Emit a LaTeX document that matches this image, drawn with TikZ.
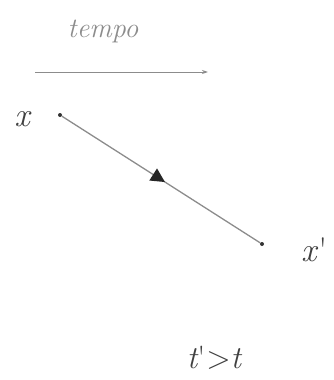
\documentclass[tikz,border=0pt]{standalone}
\usetikzlibrary{arrows.meta,decorations.markings}
\begin{document}
\begin{tikzpicture}[x=1pt,y=-1pt,
  hand/.style={font=\fontsize{34}{36}\selectfont\itshape, text=black!75, inner sep=0pt},
  pt/.style={circle, fill=black!80, inner sep=0pt, minimum size=4pt},
  wline/.style={draw=black!45, line width=1.3pt},
  midarrow/.style={postaction={decorate}, decoration={markings,
     mark=at position 0.52 with {\arrow[black!85]{Triangle[length=14pt,width=14pt]}}}}]
\useasboundingbox (0,0) rectangle (333,380);
\node[hand, text=black!45, font=\fontsize{28}{30}\selectfont\itshape] (tempo) at (103,31) {tempo};
\coordinate (ta) at (35,72);
\coordinate (tb) at (208,72);
\draw[wline, line width=1pt, -{Stealth[length=6pt,width=4pt]}] (ta) -- (tb);
\node[pt] (p1) at (60,115) {};
\node[pt] (p2) at (262,244) {};
\node[hand] (x1) at (22,119) {x};
\node[hand, anchor=west] (x2) at (301,250) {x\kern2pt\upshape\textquotesingle};
\draw[wline, midarrow] (p1) -- (p2);
\node[hand, font=\fontsize{32}{34}\selectfont\itshape] (cond) at (214,358) {t\upshape\textquotesingle\kern1pt>\itshape t};
\end{tikzpicture}
\end{document}
